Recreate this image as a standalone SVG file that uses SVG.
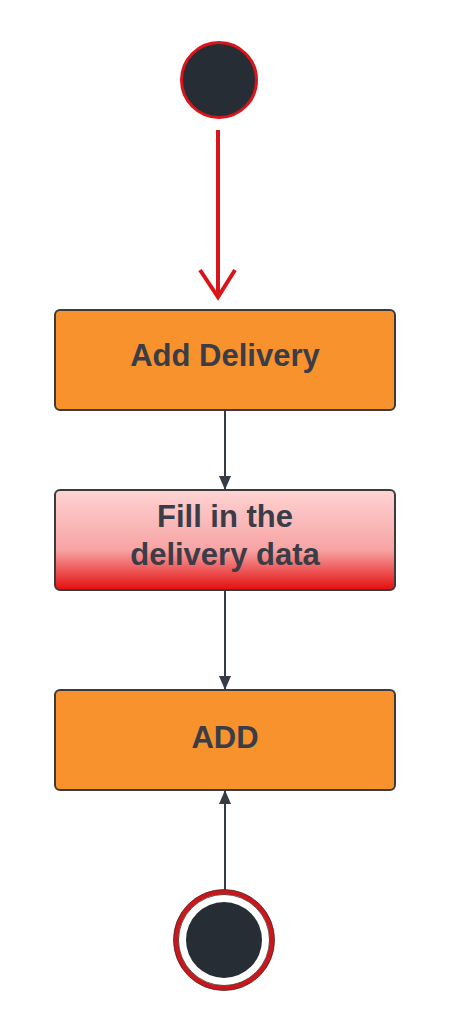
<svg xmlns="http://www.w3.org/2000/svg" width="451" height="1030" viewBox="0 0 451 1030">
<style>
.box{stroke:#3b3b3b;stroke-width:2}
.orange{fill:#f8922d}
.lbl{font-family:"Liberation Sans",Arial,sans-serif;font-weight:bold;font-size:31px;fill:#3a3d47;text-anchor:middle}
.conn{stroke:#363c46;stroke-width:2;fill:none}
</style>
<defs>
<linearGradient id="redgrad" x1="0" y1="0" x2="0" y2="1">
<stop offset="0" stop-color="#ffd3d3"/>
<stop offset="0.6" stop-color="#f7a3a3"/>
<stop offset="1" stop-color="#e50d0d"/>
</linearGradient>
<marker id="arr" markerWidth="14" markerHeight="12" refX="14" refY="6" orient="auto" markerUnits="userSpaceOnUse" viewBox="0 0 14 12">
<path d="M0,0 L14,6 L0,12 Z" fill="#363c46"/>
</marker>
</defs>
<g id="start">
<circle cx="219" cy="80" r="37.5" fill="#272d35" stroke="#d8151a" stroke-width="3"/>
</g>
<g id="connectors">
<line x1="218" y1="130" x2="218" y2="297" stroke="#d8151a" stroke-width="4"/>
<polyline points="200,270 218,297 235,270" fill="none" stroke="#d8151a" stroke-width="4"/>
<line class="conn" x1="225" y1="410" x2="225" y2="490" marker-end="url(#arr)"/>
<line class="conn" x1="225" y1="590" x2="225" y2="690" marker-end="url(#arr)"/>
<line class="conn" x1="225" y1="902" x2="225" y2="790" marker-end="url(#arr)"/>
</g>
<g id="add-delivery">
<rect class="box orange" x="55" y="310" width="340" height="100" rx="5"/>
<text class="lbl" x="225" y="366">Add Delivery</text>
</g>
<g id="fill-data">
<rect class="box" x="55" y="490" width="340" height="100" rx="5" fill="url(#redgrad)"/>
<text class="lbl" x="225" y="527">Fill in the</text>
<text class="lbl" x="225" y="565">delivery data</text>
</g>
<g id="add">
<rect class="box orange" x="55" y="690" width="340" height="100" rx="5"/>
<text class="lbl" x="225" y="748">ADD</text>
</g>
<g id="end">
<circle cx="224" cy="940" r="48" fill="#ffffff" stroke="#c9171b" stroke-width="5"/>
<circle cx="224" cy="940" r="50.5" fill="none" stroke="#4a2a2a" stroke-width="0.8"/>
<circle cx="224" cy="940" r="45.5" fill="none" stroke="#4a2a2a" stroke-width="0.8"/>
<circle cx="224" cy="940" r="38" fill="#272d35"/>
</g>
</svg>
